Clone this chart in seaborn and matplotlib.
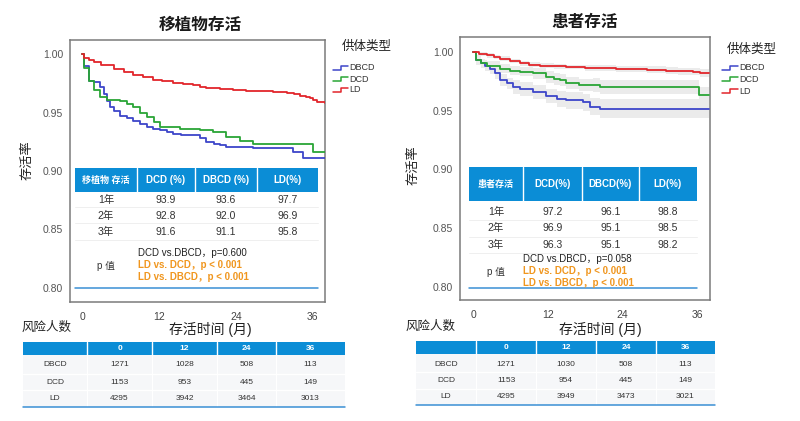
import numpy as np
import pandas as pd
import matplotlib
matplotlib.use('Agg')
import matplotlib.pyplot as plt
from matplotlib.patches import Rectangle
from matplotlib.lines import Line2D
import seaborn as sns

# donor groups
donor_types = ['DBCD', 'DCD', 'LD']
donor_colors = ['#3d45c9', '#2aa536', '#e2252b']

# graft survival (left panel), months / survival
graft_dbcd_t = [0, 0.3, 1.0, 1.8, 2.8, 3.4, 3.9, 4.4, 5.0, 5.9, 7.0, 8.0, 9.0, 10.1, 11.0, 12.2, 13.2,
                14.2, 15.5, 17.3, 18.4, 19.4, 20.5, 21.5, 22.5, 26.7, 30.0, 32.9, 34.4, 37.9]
graft_dbcd_s = [1.0, 0.990, 0.977, 0.9757, 0.9715, 0.966, 0.960, 0.9545, 0.951, 0.947, 0.945, 0.943, 0.940,
                0.9376, 0.936, 0.935, 0.933, 0.932, 0.931, 0.9305, 0.928, 0.925, 0.923, 0.922, 0.9206,
                0.920, 0.920, 0.916, 0.9115, 0.9115]
graft_dcd_t = [0, 0.3, 1.0, 1.8, 2.8, 3.9, 5.9, 7.0, 8.0, 9.0, 10.1, 11.2, 12.2, 15.3, 18.4, 20.4, 22.5,
               24.6, 26.7, 30.3, 36.0, 37.9]
graft_dcd_s = [1.0, 0.988, 0.977, 0.969, 0.963, 0.961, 0.960, 0.957, 0.9545, 0.950, 0.946, 0.942, 0.9376,
               0.936, 0.9347, 0.933, 0.929, 0.926, 0.923, 0.923, 0.916, 0.916]
graft_ld_t = [0, 0.3, 1.0, 1.8, 3.0, 4.9, 6.5, 8.0, 9.5, 11.1, 12.5, 14.2, 15.8, 17.3, 18.4, 19.4, 21.5,
              23.6, 25.5, 27.7, 29.8, 31.9, 33.0, 34.0, 35.0, 35.5, 36.0, 36.6, 37.9]
graft_ld_s = [1.0, 0.997, 0.995, 0.993, 0.991, 0.9875, 0.985, 0.982, 0.980, 0.978, 0.977, 0.9755, 0.9745,
              0.9735, 0.972, 0.971, 0.970, 0.9695, 0.9688, 0.968, 0.9673, 0.9667, 0.9655, 0.9645, 0.963,
              0.9625, 0.961, 0.959, 0.958]

# patient survival (right panel)
pat_dbcd_t = [0, 0.4, 1.2, 2.0, 2.8, 3.6, 4.4, 5.4, 6.5, 7.6, 9.7, 11.8, 13.5, 15.0, 17.7, 18.8, 20.4, 38.0]
pat_dbcd_s = [1.0, 0.993, 0.990, 0.988, 0.9857, 0.9815, 0.9757, 0.973, 0.970, 0.9686, 0.966, 0.962, 0.960,
              0.9586, 0.957, 0.9534, 0.9514, 0.9514]
pat_dbcd_ci = [0, 0.004, 0.004, 0.004, 0.005, 0.005, 0.005, 0.005, 0.006, 0.006, 0.006, 0.006, 0.007,
               0.007, 0.007, 0.007, 0.008, 0.008]
pat_dcd_t = [0, 0.4, 1.2, 2.2, 4.4, 6.0, 7.6, 9.7, 11.8, 13.0, 14.0, 15.0, 17.0, 19.3, 20.4, 36.4, 38.0]
pat_dcd_s = [1.0, 0.993, 0.990, 0.9877, 0.9857, 0.984, 0.983, 0.9815, 0.9786, 0.977, 0.9757, 0.9734,
             0.972, 0.9714, 0.970, 0.963, 0.963]
pat_dcd_ci = [0, 0.003, 0.003, 0.004, 0.004, 0.004, 0.004, 0.005, 0.005, 0.005, 0.005, 0.005, 0.005,
              0.006, 0.006, 0.007, 0.007]
pat_ld_t = [0, 1.0, 2.2, 3.3, 4.4, 6.0, 7.6, 9.0, 10.8, 13.0, 15.0, 18.0, 20.4, 23.0, 25.7, 28.0, 31.0,
            33.0, 35.3, 36.5, 38.0]
pat_ld_s = [1.0, 0.998, 0.997, 0.9955, 0.994, 0.992, 0.990, 0.989, 0.988, 0.9875, 0.987, 0.9865, 0.986,
            0.9855, 0.985, 0.9845, 0.984, 0.9835, 0.983, 0.982, 0.9815]
pat_ld_ci = [0, 0.002, 0.002, 0.002, 0.002, 0.002, 0.002, 0.002, 0.002, 0.002, 0.002, 0.0025, 0.0025,
             0.0025, 0.0025, 0.003, 0.003, 0.003, 0.003, 0.0035, 0.0035]

# inner tables
year_rows = ['1年', '2年', '3年']
graft_header = ['移植物 存活', 'DCD (%)', 'DBCD (%)', 'LD(%)']
graft_dcd_pct = ['93.9', '92.8', '91.6']
graft_dbcd_pct = ['93.6', '92.0', '91.1']
graft_ld_pct = ['97.7', '96.9', '95.8']
graft_p = ['DCD vs.DBCD，p=0.600', 'LD vs. DCD，p < 0.001', 'LD vs. DBCD，p < 0.001']
pat_header = ['患者存活', 'DCD(%)', 'DBCD(%)', 'LD(%)']
pat_dcd_pct = ['97.2', '96.9', '96.3']
pat_dbcd_pct = ['96.1', '95.1', '95.1']
pat_ld_pct = ['98.8', '98.5', '98.2']
pat_p = ['DCD vs.DBCD，p=0.058', 'LD vs. DCD，p < 0.001', 'LD vs. DBCD，p < 0.001']

# numbers at risk
risk_months = ['0', '12', '24', '36']
graft_risk_dbcd = [1271, 1028, 508, 113]
graft_risk_dcd = [1153, 953, 445, 149]
graft_risk_ld = [4295, 3942, 3464, 3013]
pat_risk_dbcd = [1271, 1030, 508, 113]
pat_risk_dcd = [1153, 954, 445, 149]
pat_risk_ld = [4295, 3949, 3473, 3021]

sns.set_style('white')
plt.rcParams['font.family'] = ['Liberation Sans', 'Noto Sans CJK SC', 'DejaVu Sans']

W, H = 800, 421
BLUE = '#0b8dd6'
ORANGE = '#f0961e'


def fx(px):
    return px / W


def fy(py):
    return 1 - py / H


def km_frame(times, survs):
    parts = [pd.DataFrame({'month': t, 'survival': s, 'donor': name})
             for name, t, s in zip(donor_types, times, survs)]
    return pd.concat(parts, ignore_index=True)


fig = plt.figure(figsize=(8, 4.21), dpi=100)


def hline(x0, x1, y, color, lw=0.8):
    fig.add_artist(Line2D([fx(x0), fx(x1)], [fy(y), fy(y)], color=color, lw=lw, transform=fig.transFigure))


def vline(x, y0, y1, color, lw=0.8):
    fig.add_artist(Line2D([fx(x), fx(x)], [fy(y0), fy(y1)], color=color, lw=lw, transform=fig.transFigure))


def rect(x0, y0, x1, y1, color):
    fig.add_artist(Rectangle((fx(x0), fy(y1)), (x1 - x0) / W, (y1 - y0) / H, facecolor=color,
                             edgecolor='none', transform=fig.transFigure))


def txt(x, y, s, size=7, color='#333333', weight='normal', ha='center', **kw):
    fig.text(fx(x), fy(y), s, fontsize=size, color=color, fontweight=weight, ha=ha, va='center', **kw)


def km_panel(box, times, survs, xlim, ylim, cis=None):
    x0, y0, x1, y1 = box
    ax = fig.add_axes([fx(x0), fy(y1), (x1 - x0) / W, (y1 - y0) / H])
    if cis is not None:
        for t, s, c in zip(times, survs, cis):
            s = np.array(s)
            c = np.array(c)
            ax.fill_between(t, s - c, s + c, step='post', color='#ebebeb', lw=0, zorder=1)
    df = km_frame(times, survs)
    sns.lineplot(data=df, x='month', y='survival', hue='donor', hue_order=donor_types,
                 palette=donor_colors, estimator=None, drawstyle='steps-post', lw=1.3,
                 legend=False, ax=ax, zorder=3)
    ax.set_xlim(*xlim)
    ax.set_ylim(*ylim)
    ax.set_xticks([0, 12, 24, 36])
    ax.set_yticks([0.80, 0.85, 0.90, 0.95, 1.00])
    ax.set_yticklabels(['%.2f' % v for v in [0.80, 0.85, 0.90, 0.95, 1.00]])
    ax.set_xlabel('')
    ax.set_ylabel('')
    for sp in ax.spines.values():
        sp.set_color('#7a7a7a')
        sp.set_linewidth(1.1)
    ax.tick_params(axis='y', direction='out', length=4, width=1, color='#777777',
                   labelsize=7.5, labelcolor='#555555', pad=1)
    ax.tick_params(axis='x', direction='out', length=6, width=1, color='#777777',
                   labelsize=7.5, labelcolor='#444444', pad=1)
    return ax


def legend(title_x, title_y, icon_x0, icon_x1, ys, label_x):
    txt(title_x, title_y, '供体类型', size=9, color='#222222')
    mid = (icon_x0 + icon_x1) / 2
    for name, col, y in zip(donor_types, donor_colors, ys):
        fig.add_artist(Line2D([fx(icon_x0), fx(mid), fx(mid), fx(icon_x1)],
                              [fy(y + 1.5), fy(y + 1.5), fy(y - 2), fy(y - 2)],
                              color=col, lw=1.1, transform=fig.transFigure))
        txt(label_x, y, name, size=6.5, color='#333333', ha='left')


def inner_table(edges, head, mids, seps, header, cols, p_y, p_x, p_ys, p_lines, bottom):
    rect(edges[0], head[0], edges[-1], head[1], BLUE)
    for e in edges[1:-1]:
        vline(e, head[0], head[1], 'white', 1.0)
    for i, h in enumerate(header):
        txt((edges[i] + edges[i + 1]) / 2, (head[0] + head[1]) / 2, h,
            size=7 if i else 6.5, color='white', weight='bold')
    for s in seps:
        hline(edges[0], edges[-1], s, '#ececec', 0.6)
    for j, y in enumerate(mids):
        for i, col in enumerate(cols):
            txt((edges[i] + edges[i + 1]) / 2, y, col[j], size=7.5, color='#333333')
    txt((edges[0] + edges[1]) / 2, p_y, 'p 值', size=7, color='#333333')
    for k, (y, s) in enumerate(zip(p_ys, p_lines)):
        txt(p_x, y, s, size=7, color='#222222' if k == 0 else ORANGE,
            weight='normal' if k == 0 else 'bold', ha='left')
    hline(edges[0], edges[-1], bottom, '#3a8fd4', 1.1)


def risk_table(edges, head, mids, bottom, rows):
    rect(edges[0], head[1], edges[-1], bottom, '#f6f7f9')
    rect(edges[0], head[0], edges[-1], head[1], BLUE)
    for e in edges[1:-1]:
        vline(e, head[0], head[1], 'white', 1.0)
        vline(e, head[1], bottom, '#ffffff', 0.8)
    for i, m in enumerate(risk_months):
        txt((edges[i + 1] + edges[i + 2]) / 2, (head[0] + head[1]) / 2, m, size=6, color='white',
            weight='bold')
    for k in range(1, len(mids)):
        hline(edges[0], edges[-1], (mids[k - 1] + mids[k]) / 2, '#ffffff', 0.9)
    for name, vals, y in zip(donor_types, rows, mids):
        txt((edges[0] + edges[1]) / 2, y, name, size=6, color='#333333')
        for i, v in enumerate(vals):
            txt((edges[i + 1] + edges[i + 2]) / 2, y, str(v), size=6, color='#333333')
    hline(edges[0], edges[-1], bottom, '#3a8fd4', 1.1)


# ---- left panel: graft survival ----
km_panel((70, 40, 325, 302),
         [graft_dbcd_t, graft_dcd_t, graft_ld_t], [graft_dbcd_s, graft_dcd_s, graft_ld_s],
         (-1.9, 37.9), (0.788, 1.012))
txt(200, 25, '移植物存活', size=12, color='#1a1a1a', weight='bold')
txt(27, 160, '存活率', size=9.5, color='#222222', rotation=90)
txt(210, 329, '存活时间 (月)', size=10, color='#222222')
txt(47, 328, '风险人数', size=9, color='#222222')
legend(367, 47, 333, 348, [68, 79, 90], 349)
inner_table([75, 137, 195, 257, 318], (168, 192), [200, 216, 232], [207, 223, 240],
            graft_header, [year_rows, graft_dcd_pct, graft_dbcd_pct, graft_ld_pct],
            266, 138, [253, 265, 277], graft_p, 288)
risk_table([23, 87, 152, 217, 276, 345], (342, 355), [365, 382, 398], 407,
           [graft_risk_dbcd, graft_risk_dcd, graft_risk_ld])

# ---- right panel: patient survival ----
km_panel((460, 37, 710, 300),
         [pat_dbcd_t, pat_dcd_t, pat_ld_t], [pat_dbcd_s, pat_dcd_s, pat_ld_s],
         (-2.1, 38.1), (0.789, 1.0125), cis=[pat_dbcd_ci, pat_dcd_ci, pat_ld_ci])
txt(585, 22, '患者存活', size=12, color='#1a1a1a', weight='bold')
txt(413, 165, '存活率', size=9.5, color='#222222', rotation=90)
txt(600, 329, '存活时间 (月)', size=10, color='#222222')
txt(431, 327, '风险人数', size=9, color='#222222')
legend(752, 50, 722, 738, [68, 79, 91], 739)
inner_table([469, 523, 582, 639, 697], (167, 201), [212, 228, 245], [220, 237, 253],
            pat_header, [year_rows, pat_dcd_pct, pat_dbcd_pct, pat_ld_pct],
            272, 523, [259, 271, 283], pat_p, 288)
risk_table([416, 476, 536, 596, 656, 715], (341, 354), [364, 380, 397], 405,
           [pat_risk_dbcd, pat_risk_dcd, pat_risk_ld])

fig.savefig('out.png', dpi=100, facecolor='white')
